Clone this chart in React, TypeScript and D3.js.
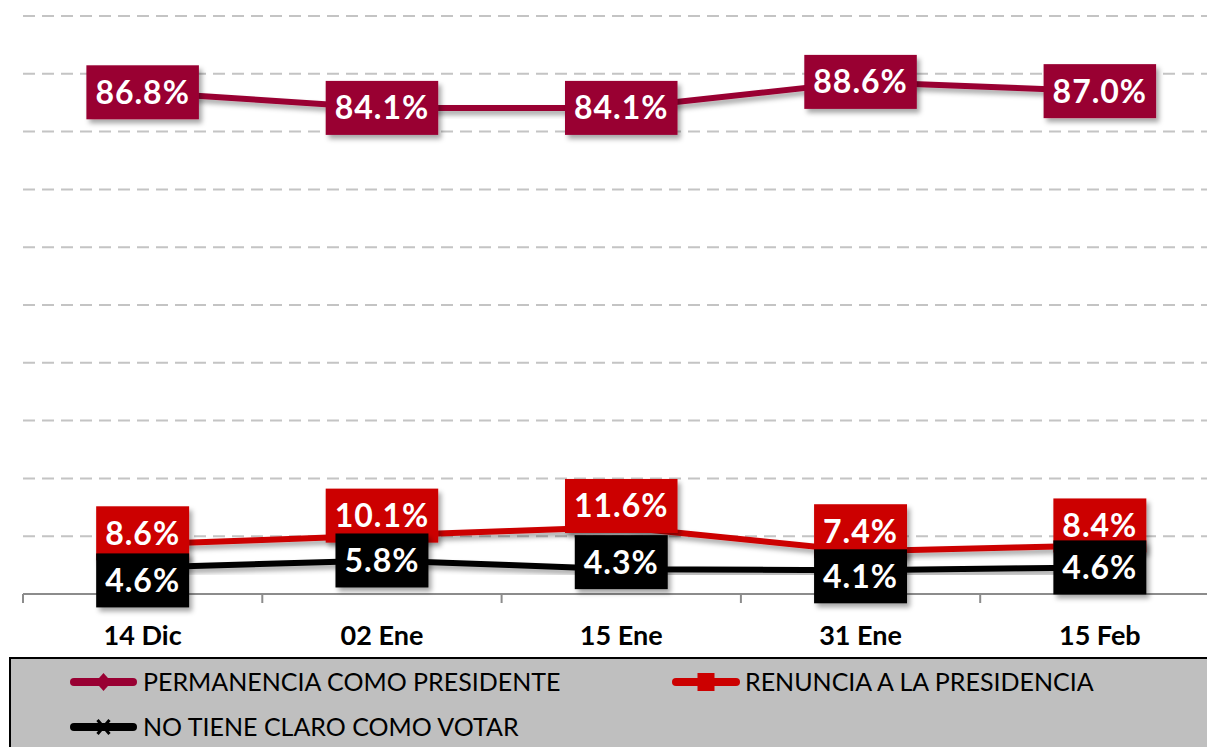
import React, { useEffect, useRef } from "react";
import * as d3 from "d3";

const categories = ["14 Dic", "02 Ene", "15 Ene", "31 Ene", "15 Feb"];
const permanencia = [86.8, 84.1, 84.1, 88.6, 87.0];
const renuncia = [8.6, 10.1, 11.6, 7.4, 8.4];
const noTieneClaro = [4.6, 5.8, 4.3, 4.1, 4.6];
const seriesNames = ["PERMANENCIA COMO PRESIDENTE", "RENUNCIA A LA PRESIDENCIA", "NO TIENE CLARO COMO VOTAR"];
const gridTicks = [10, 20, 30, 40, 50, 60, 70, 80, 90, 100];

const colors = ["#990033", "#cc0000", "#000000"];
// labels were nudged by hand in the original, px up/down from the point
const labelNudge = [
  [0, 0, 0, 0, 0],
  [-11, -20, -21, -20, -20],
  [13, 0, -7, 6, 0],
];

export default function App() {
  const ref = useRef<SVGSVGElement>(null);

  useEffect(() => {
    const width = 1207;
    const height = 747;
    const svg = d3.select(ref.current).attr("width", width).attr("height", height);
    svg.selectAll("*").remove();

    const defs = svg.append("defs");
    const f = defs.append("filter").attr("id", "shadow").attr("x", "-20%").attr("y", "-20%").attr("width", "150%").attr("height", "160%");
    f.append("feDropShadow").attr("dx", 3).attr("dy", 4).attr("stdDeviation", 2.5)
      .attr("flood-color", "#000").attr("flood-opacity", 0.35);

    const left = 23;
    const band = 239.3;
    const xScale = d3.scaleBand().domain(categories).range([left, left + band * categories.length]);
    const yScale = d3.scaleLinear().domain([0, 100]).range([594, 16]);
    const cx = (c: string) => (xScale(c) as number) + xScale.bandwidth() / 2;

    // gridlines
    svg.append("g").selectAll("line").data(gridTicks).enter().append("line")
      .attr("x1", left).attr("x2", width)
      .attr("y1", d => yScale(d)).attr("y2", d => yScale(d))
      .attr("stroke", "#c4c4c4").attr("stroke-width", 2).attr("stroke-dasharray", "12 7");

    // x axis
    const xAxis = d3.axisBottom(xScale).tickSize(0).tickFormat(() => "");
    const ax = svg.append("g").attr("transform", `translate(0, ${yScale(0)})`).call(xAxis);
    ax.select(".domain").remove();
    ax.append("line").attr("x1", left).attr("x2", width).attr("y1", 0).attr("y2", 0)
      .attr("stroke", "#8c8c8c").attr("stroke-width", 2);
    const edges = categories.map(c => xScale(c) as number);
    ax.selectAll("line.tk").data(edges).enter().append("line").attr("class", "tk")
      .attr("x1", d => d).attr("x2", d => d).attr("y1", 0).attr("y2", 9)
      .attr("stroke", "#8c8c8c").attr("stroke-width", 2);

    svg.append("g").selectAll("text").data(categories).enter().append("text")
      .attr("x", d => cx(d)).attr("y", 645)
      .attr("text-anchor", "middle")
      .style("font-family", "Lato, sans-serif").style("font-weight", "bold").style("font-size", "27px")
      .attr("fill", "#000").text(d => d);

    const series = [permanencia, renuncia, noTieneClaro];
    const line = d3.line<number>().x((d, i) => cx(categories[i])).y(d => yScale(d));

    series.forEach((s, k) => {
      svg.append("path").datum(s).attr("d", line).attr("fill", "none")
        .attr("stroke", colors[k]).attr("stroke-width", 6).attr("stroke-linejoin", "round")
        .attr("filter", "url(#shadow)");
    });

    // data labels
    series.forEach((s, k) => {
      const g = svg.append("g");
      s.forEach((v, i) => {
        const x = cx(categories[i]);
        const y = yScale(v) + labelNudge[k][i];
        const lg = g.append("g");
        const rect = lg.append("rect").attr("fill", colors[k]).attr("filter", "url(#shadow)");
        const t = lg.append("text").attr("x", x).attr("y", y + 11.5)
          .attr("text-anchor", "middle").attr("fill", "#fff")
          .style("font-family", "Lato, sans-serif").style("font-weight", "bold").style("font-size", "32px")
          .style("letter-spacing", "1px")
          .text(v.toFixed(1) + "%");
        const w = (t.node() as SVGTextElement).getComputedTextLength() + 18;
        rect.attr("x", x - w / 2).attr("y", y - 27).attr("width", w).attr("height", 54);
      });
    });

    // legend
    const lg = svg.append("g");
    lg.append("rect").attr("x", 10).attr("y", 658).attr("width", 1220).attr("height", 120)
      .attr("fill", "#bfbfbf").attr("stroke", "#000").attr("stroke-width", 2);
    const items = [
      { x1: 70, x2: 137, y: 682, tx: 143 },
      { x1: 672, x2: 740, y: 682, tx: 745 },
      { x1: 70, x2: 137, y: 727, tx: 143 },
    ];
    items.forEach((it, k) => {
      lg.append("line").attr("x1", it.x1 + 4).attr("x2", it.x2 - 4).attr("y1", it.y).attr("y2", it.y)
        .attr("stroke", colors[k]).attr("stroke-width", 8).attr("stroke-linecap", "round");
      const mx = (it.x1 + it.x2) / 2;
      if (k === 0) {
        lg.append("path").attr("d", `M${mx},${it.y - 9} L${mx + 8},${it.y} L${mx},${it.y + 9} L${mx - 8},${it.y} Z`)
          .attr("fill", colors[k]);
      } else if (k === 1) {
        lg.append("rect").attr("x", mx - 8.5).attr("y", it.y - 9).attr("width", 17).attr("height", 18).attr("fill", colors[k]);
      } else {
        lg.append("path").attr("d", `M${mx - 6},${it.y - 7} L${mx + 6},${it.y + 7} M${mx + 6},${it.y - 7} L${mx - 6},${it.y + 7}`)
          .attr("stroke", colors[k]).attr("stroke-width", 3);
      }
      lg.append("text").attr("x", it.tx).attr("y", it.y + 9)
        .style("font-family", "Lato, sans-serif").style("font-size", "25px")
        .attr("fill", "#000").text(seriesNames[k]);
    });
  }, []);

  return (
    <svg ref={ref} style={{ position: "absolute", left: 0, top: 0, background: "#fff" }}></svg>
  );
}
